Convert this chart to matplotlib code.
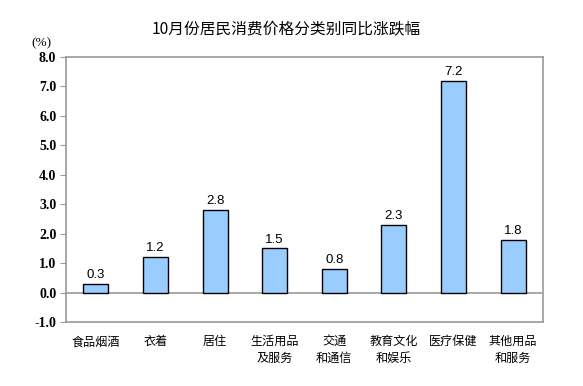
import matplotlib

matplotlib.use("Agg")
import matplotlib.pyplot as plt  # noqa: E402
import numpy as np  # noqa: E402

plt.rcParams["font.family"] = ["Noto Sans CJK SC", "DejaVu Sans"]

TITLE = "10月份居民消费价格分类别同比涨跌幅"
categories = ["食品烟酒", "衣着", "居住", "生活用品\n及服务", "交通\n和通信",
              "教育文化\n和娱乐", "医疗保健", "其他用品\n和服务"]
values = [0.3, 1.2, 2.8, 1.5, 0.8, 2.3, 7.2, 1.8]
yticks = [-1.0, 0.0, 1.0, 2.0, 3.0, 4.0, 5.0, 6.0, 7.0, 8.0]

fig = plt.figure(figsize=(5.83, 3.86), dpi=100)
ax = fig.add_axes([66 / 583, 1 - 322 / 386, 477 / 583, 265 / 386])

x = np.arange(len(categories))
ax.bar(x, values, width=0.42, color="#99ccff", edgecolor="black", linewidth=1.0, zorder=3)
for xi, v in zip(x, values):
    ax.annotate(f"{v:.1f}", (xi, v), xytext=(0, 2), textcoords="offset points",
                ha="center", va="bottom", fontsize=9.5, family="Liberation Sans")

ax.axhline(0, color="#999999", linewidth=1.2, zorder=2)
ax.set_xlim(-0.5, len(categories) - 0.5)
ax.set_ylim(-1.0, 8.0)
ax.set_yticks(yticks)
ax.set_yticklabels([f"{t:.1f}" for t in yticks], family="Liberation Serif",
                   fontsize=10, fontweight="bold")
ax.tick_params(axis="y", direction="out", length=4, color="#999999", pad=3)
ax.set_xticks([])
for s in ax.spines.values():
    s.set_color("#999999")
    s.set_linewidth(1.2)

for xi, c in zip(x, categories):
    ax.text(xi, -1.45, c, ha="center", va="top", fontsize=8.7, linespacing=1.4)

fig.text(286 / 583, 1 - 30 / 386, TITLE, ha="center", va="center", fontsize=11.3)
fig.text(41 / 583, 1 - 43 / 386, "(%)", ha="center", va="center", fontsize=9.5,
         family="Liberation Serif")

fig.savefig("out.png")
